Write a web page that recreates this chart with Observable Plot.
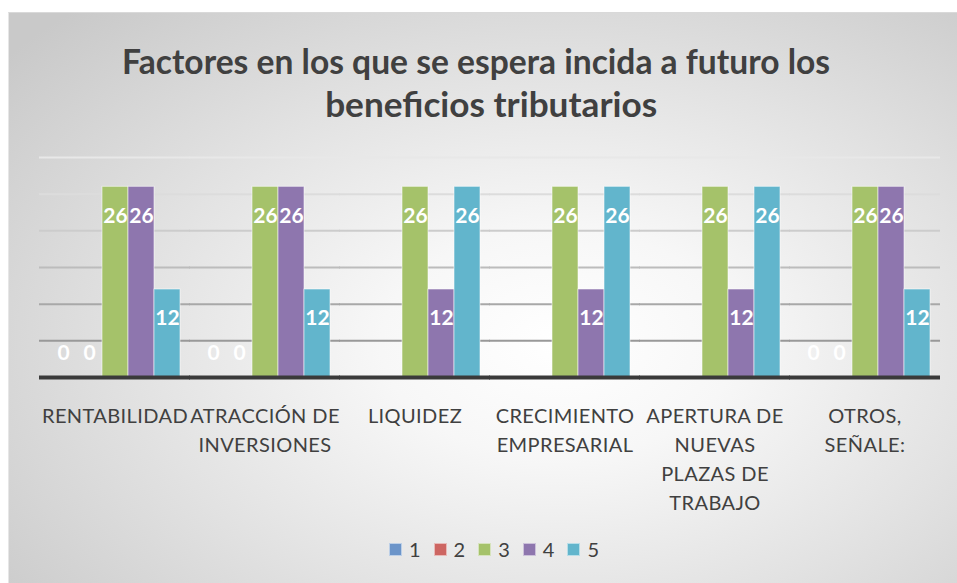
<!DOCTYPE html>
<html>
<head>
<meta charset="utf-8">
<script src="https://cdn.jsdelivr.net/npm/d3@7"></script>
<script src="https://cdn.jsdelivr.net/npm/@observablehq/plot@0.6"></script>
<style>
  html, body { margin: 0; padding: 0; background: #ffffff; }
  #page { position: relative; width: 957px; height: 583px; overflow: hidden; background: #ffffff; font-family: Lato, "Open Sans", sans-serif; }
  #bg { position: absolute; left: 8px; top: 12px; width: 949px; height: 571px;
        background: radial-gradient(ellipse 75% 80% at 58% 58%, #ffffff 0%, #f7f7f7 25%, #e2e2e2 60%, #c9c9c9 100%);
        border-top: 1px solid #d9d9d9; border-left: 1px solid #e6e6e6; box-sizing: border-box; }
  #title { position: absolute; left: 0; top: 39px; width: 957px; text-align: center; color: #404040;
           font-family: Lato, sans-serif; font-weight: 700; font-size: 35px; line-height: 43px; }
  #title .line { display: block; white-space: nowrap; height: 43px; }
  #title .line span { display: inline-block; transform-origin: center; }
  #chart { position: absolute; left: 0; top: 140px; }
  #chart svg { background: transparent; }
  #chart g[aria-label="fx-axis tick label"] text { letter-spacing: 0.4px; }
  #legend { position: absolute; left: 389px; top: 538px; display: flex; align-items: center; color: #404040;
            font-family: Lato, sans-serif; font-size: 20px; line-height: 22px; }
  #legend .item { display: flex; align-items: center; margin-right: 13px; }
  #legend .sw { width: 13px; height: 13px; margin-right: 7px; box-sizing: border-box; border: 1px solid rgba(255,255,255,0.55); }
</style>
</head>
<body>
<div id="page">
  <div id="bg"></div>
  <div id="title"></div>
  <div id="chart"></div>
  <div id="legend"></div>
</div>
<script>
// ---- data ----
const titleLines = ["Factores en los que se espera incida a futuro los", "beneficios tributarios"];
const categories = [
  "RENTABILIDAD",
  "ATRACCIÓN DE\nINVERSIONES",
  "LIQUIDEZ",
  "CRECIMIENTO\nEMPRESARIAL",
  "APERTURA DE\nNUEVAS\nPLAZAS DE\nTRABAJO",
  "OTROS,\nSEÑALE:"
];
const seriesNames = ["1", "2", "3", "4", "5"];
const series1 = [0, 0, null, null, null, 0];
const series2 = [0, 0, null, null, null, 0];
const series3 = [26, 26, 26, 26, 26, 26];
const series4 = [26, 26, 12, 12, 12, 26];
const series5 = [12, 12, 26, 26, 26, 12];
const gridTicks = [5, 10, 15, 20, 25, 30];
const gridColors = ["#999999", "#a8a8a8", "#bcbcbc", "#cccccc", "#dcdcdc", "#e8e8e8"];
const colors = ["#6b94c9", "#cd6662", "#a5c26a", "#8e76ae", "#62b5cc"];

const allSeries = [series1, series2, series3, series4, series5];
const rows = [];
categories.forEach((c, i) => {
  allSeries.forEach((s, j) => {
    if (s[i] !== null) rows.push({cat: c, series: seriesNames[j], value: s[i]});
  });
});

// ---- title ----
const titleEl = document.getElementById("title");
const targetWidths = [708, 332];
const shifts = [-2, 13];
titleLines.forEach((t, i) => {
  const line = document.createElement("div");
  line.className = "line";
  const sp = document.createElement("span");
  sp.textContent = t;
  line.appendChild(sp);
  titleEl.appendChild(line);
});
titleEl.querySelectorAll(".line span").forEach((sp, i) => {
  const w = sp.getBoundingClientRect().width;
  sp.style.transform = `translateX(${shifts[i]}px) scaleX(${targetWidths[i] / w})`;
});

// ---- chart ----
const chart = Plot.plot({
  width: 957,
  height: 380,
  marginLeft: 39,
  marginRight: 17,
  marginTop: 17,
  marginBottom: 143,
  style: {fontFamily: "Lato, sans-serif", background: "transparent", overflow: "visible"},
  fx: {domain: categories, paddingInner: 0.113, paddingOuter: 0.0565, label: null},
  x: {domain: seriesNames, padding: 0, axis: null},
  y: {domain: [0, 30], axis: null},
  color: {domain: seriesNames, range: colors},
  marks: [
    ...gridTicks.map((t, i) => Plot.ruleY([t], {stroke: gridColors[i], strokeWidth: 2, insetLeft: -9, insetRight: -9})),
    Plot.barY(rows, {fx: "cat", x: "series", y: "value", fill: "series", stroke: "#ffffff", strokeOpacity: 0.55, strokeWidth: 1}),
    Plot.ruleY([0], {stroke: "#3a3a3a", strokeWidth: 4, insetLeft: -9, insetRight: -9}),
    Plot.text(rows.filter(d => d.value > 0), {fx: "cat", x: "series", y: "value", text: d => String(d.value), dy: 29, fill: "#ffffff", fontWeight: "bold", fontSize: 21}),
    Plot.text(rows.filter(d => d.value === 0), {fx: "cat", x: "series", y: "value", text: d => String(d.value), dy: -24, fill: "#ffffff", fontWeight: "bold", fontSize: 21}),
    Plot.axisFx({anchor: "bottom", tickSize: 0, tickPadding: 25, fontSize: 20, lineHeight: 1.45, fill: "#404040", label: null})
  ]
});
document.getElementById("chart").appendChild(chart);

// ---- legend ----
const legend = document.getElementById("legend");
seriesNames.forEach((s, i) => {
  const item = document.createElement("div");
  item.className = "item";
  const sw = document.createElement("div");
  sw.className = "sw";
  sw.style.background = colors[i];
  const lab = document.createElement("span");
  lab.textContent = s;
  item.appendChild(sw);
  item.appendChild(lab);
  legend.appendChild(item);
});
</script>
</body>
</html>
